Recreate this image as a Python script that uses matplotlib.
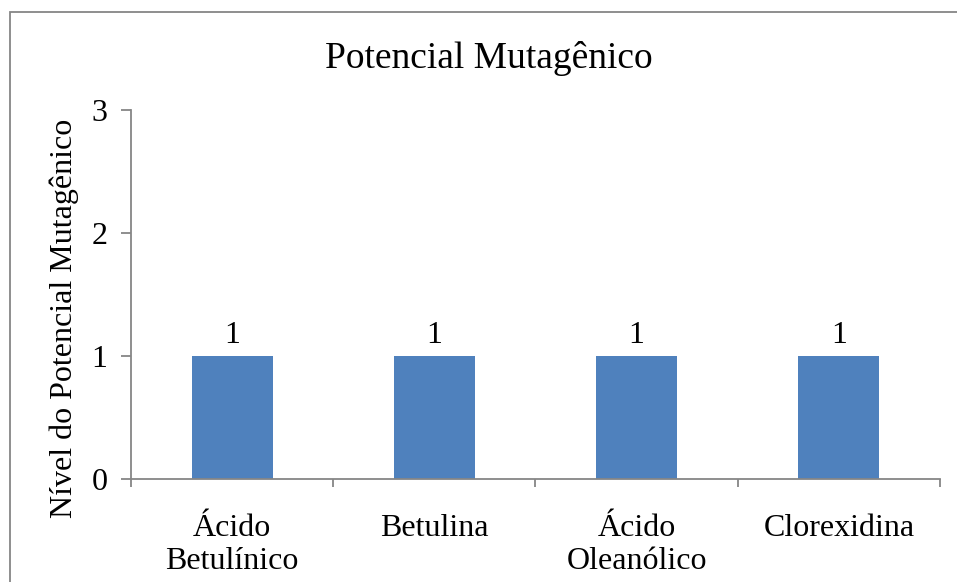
import matplotlib.pyplot as plt
from matplotlib.patches import Rectangle

plt.rcParams['font.family'] = ['Liberation Serif', 'DejaVu Serif']

# dados do grafico
categorias = ["Ácido\nBetulínico", "Betulina", "Ácido\nOleanólico", "Clorexidina"]
nivel = [1, 1, 1, 1]
y_ticks = [0, 1, 2, 3]

cinza = '#868686'

fig = plt.figure(figsize=(9.57, 5.82), dpi=100)
ax = fig.add_axes([0.1369, 0.177, 0.8453, 0.634])

pos = list(range(len(categorias)))
barras = ax.bar(pos, nivel, width=0.4, color='#4F81BD')
ax.bar_label(barras, labels=[str(v) for v in nivel], padding=4, fontsize=23)

ax.set_xlim(-0.5, len(categorias) - 0.5)
ax.set_ylim(0, 3)
ax.set_yticks(y_ticks)
ax.set_xticks(pos)
ax.set_xticklabels(categorias, fontsize=23, linespacing=1.18)
ax.set_xticks([p + 0.5 for p in [-1] + pos], minor=True)
ax.tick_params(axis='x', which='major', length=0, pad=25)
ax.tick_params(axis='x', which='minor', length=6, width=1.3, color=cinza, direction='out')
ax.tick_params(axis='y', length=7, width=1.3, color=cinza, labelsize=23, pad=10)

for s in ['top', 'right']:
    ax.spines[s].set_visible(False)
for s in ['left', 'bottom']:
    ax.spines[s].set_color(cinza)
    ax.spines[s].set_linewidth(1.3)

ax.set_ylabel("Nível do Potencial Mutagênico", fontsize=23, labelpad=9, y=0.436)
fig.text(0.511, 0.900, "Potencial Mutagênico", fontsize=27, ha='center', va='center')

# moldura do grafico
fig.patches.append(Rectangle((10 / 957, -0.1), 1.2, 1 - 12 / 582 + 0.1,
                             transform=fig.transFigure, fill=False,
                             edgecolor=cinza, linewidth=1.3))

fig.savefig("out.png", dpi=100)
